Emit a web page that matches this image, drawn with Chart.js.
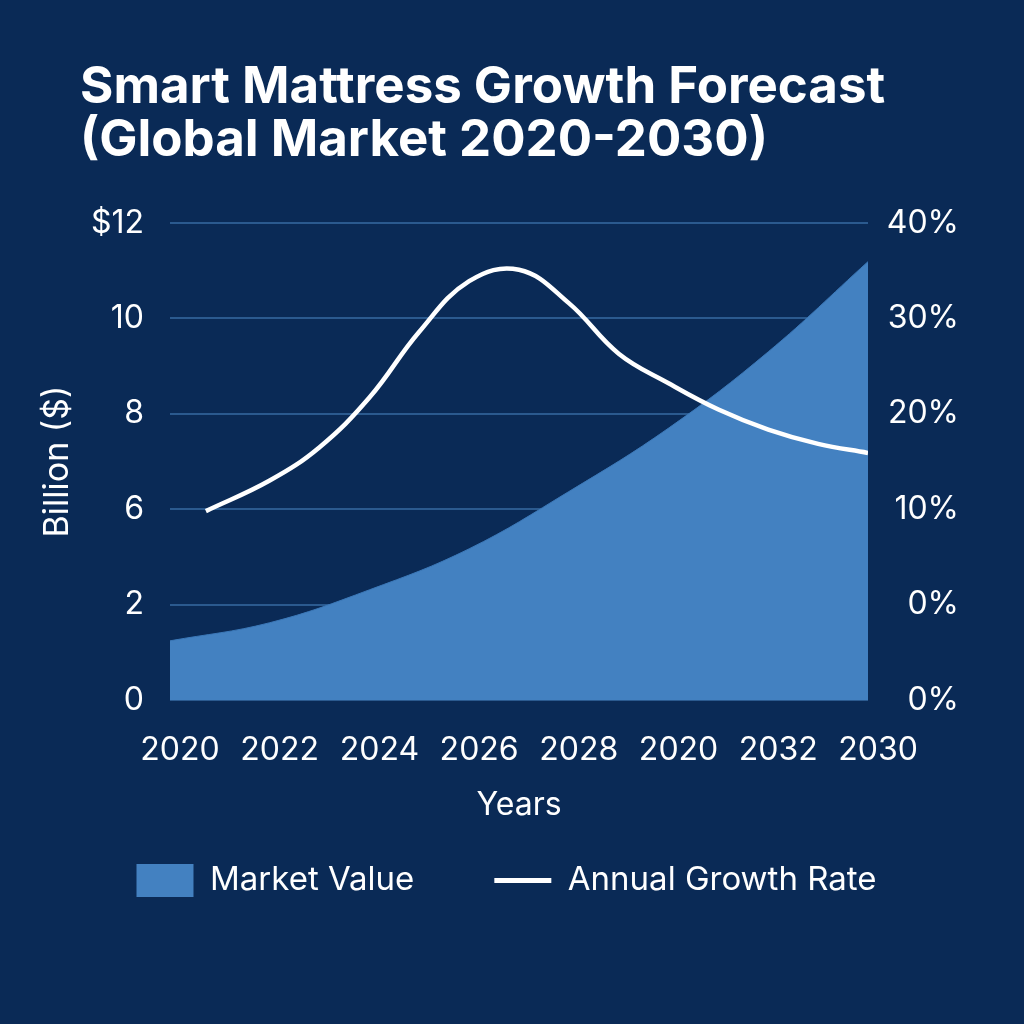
<!DOCTYPE html>
<html>
<head>
<meta charset="utf-8">
<script src="https://cdn.jsdelivr.net/npm/chart.js@4.4.1/dist/chart.umd.min.js"></script>
<style>
  html, body { margin: 0; padding: 0; background: #0a2a56; }
  #wrap { width: 1024px; height: 1024px; position: relative; }
</style>
</head>
<body>
<div id="wrap"><canvas id="c"></canvas></div>
<script>
// ---- data ----
const titleLines = ['Smart Mattress Growth Forecast', '(Global Market 2020-2030)'];
const xLabels = ['2020', '2022', '2024', '2026', '2028', '2020', '2032', '2030'];
const leftTickLabels = ['0', '2', '6', '8', '10', '$12'];
const rightTickLabels = ['0%', '0%', '10%', '20%', '30%', '40%'];
const marketX = [0, 1, 2, 3, 4, 5, 6, 7];
const marketValue = [1.24, 1.62, 2.31, 3.17, 4.37, 5.70, 7.30, 9.19];
const growthX = [0.36, 1, 1.5, 2, 2.5, 3, 3.5, 4, 4.5, 5, 5.5, 6, 6.5, 7];
const growthRate = [9.8, 13.0, 16.5, 21.7, 28.6, 33.9, 35.1, 31.6, 26.3, 23.2, 20.45, 18.35, 16.85, 15.9];

const FONT = 'Inter';
const bg = '#0a2a56';

const bgPlugin = {
  id: 'bg',
  beforeDraw(chart) {
    const ctx = chart.ctx;
    ctx.save();
    ctx.fillStyle = bg;
    ctx.fillRect(0, 0, chart.width, chart.height);
    ctx.restore();
  }
};
const titlePlugin = {
  id: 'bigTitle',
  afterDraw(chart) {
    const ctx = chart.ctx;
    ctx.save();
    ctx.fillStyle = '#ffffff';
    ctx.font = 'bold 51px ' + FONT;
    ctx.textBaseline = 'alphabetic';
    ctx.textAlign = 'left';
    ctx.fillText(titleLines[0], 80, 103);
    ctx.fillText(titleLines[1], 80, 156);
    ctx.restore();
  }
};

new Chart(document.getElementById('c'), {
  type: 'line',
  data: {
    datasets: [
      {
        label: 'Annual Growth Rate',
        data: growthX.map((x, i) => ({ x, y: growthRate[i] })),
        yAxisID: 'y1',
        borderColor: '#ffffff',
        borderWidth: 4.5,
        fill: false,
        tension: 0.4,
        pointRadius: 0,
        pointHoverRadius: 0,
        pointStyle: 'line',
        pointBorderColor: '#ffffff',
        pointBorderWidth: 5,
        pointBackgroundColor: '#ffffff'
      },
      {
        label: 'Market Value',
        data: marketX.map((x, i) => ({ x, y: marketValue[i] })),
        yAxisID: 'y',
        backgroundColor: '#4381c1',
        borderColor: '#3b78b8',
        borderWidth: 1,
        fill: 'origin',
        tension: 0.4,
        pointRadius: 0,
        pointHoverRadius: 0,
        pointStyle: 'rect',
        pointBackgroundColor: '#4381c1',
        pointBorderColor: '#4381c1',
        pointBorderWidth: 0
      }
    ]
  },
  options: {
    responsive: true,
    maintainAspectRatio: false,
    animation: false,
    devicePixelRatio: 1,
    layout: { padding: { top: 223, bottom: 117, left: 54, right: 65 } },
    plugins: {
      title: { display: false },
      tooltip: { enabled: false },
      legend: {
        display: true,
        position: 'bottom',
        reverse: true,
        labels: {
          color: '#ffffff',
          font: { family: FONT, size: 33 },
          usePointStyle: true,
          pointStyleWidth: 57,
          boxHeight: 33,
          padding: 80
        }
      }
    },
    scales: {
      x: {
        type: 'linear',
        min: 0,
        max: 7,
        afterFit(s) { s.height = 84; },
        grid: { display: false },
        border: { display: false },
        ticks: {
          stepSize: 1,
          autoSkip: false,
          maxRotation: 0,
          padding: 23,
          labelOffset: 10,
          color: '#ffffff',
          font: { family: FONT, size: 32 },
          callback: (v) => xLabels[v]
        },
        title: {
          display: true,
          text: 'Years',
          color: '#ffffff',
          font: { family: FONT, size: 32 },
          padding: { top: 0, bottom: -40.7 }
        }
      },
      y: {
        position: 'left',
        min: 0,
        max: 10,
        afterFit(s) { s.width = 116; },
        grid: { color: '#2b5a8f', lineWidth: 2, drawTicks: false },
        border: { display: false },
        ticks: {
          stepSize: 2,
          padding: 26,
          color: '#ffffff',
          font: { family: FONT, size: 32 },
          callback: (v) => leftTickLabels[v / 2]
        },
        title: {
          display: true,
          text: 'Billion ($)',
          color: '#ffffff',
          font: { family: FONT, size: 34 },
          padding: { top: -16.4, bottom: 0 }
        }
      },
      y1: {
        position: 'right',
        min: -10,
        max: 40,
        afterFit(s) { s.width = 91; },
        grid: { display: false, drawTicks: false },
        border: { display: false },
        ticks: {
          stepSize: 10,
          padding: 23,
          crossAlign: 'far',
          color: '#ffffff',
          font: { family: FONT, size: 32 },
          callback: (v) => rightTickLabels[(v + 10) / 10]
        }
      }
    }
  },
  plugins: [bgPlugin, titlePlugin]
});
</script>
</body>
</html>
